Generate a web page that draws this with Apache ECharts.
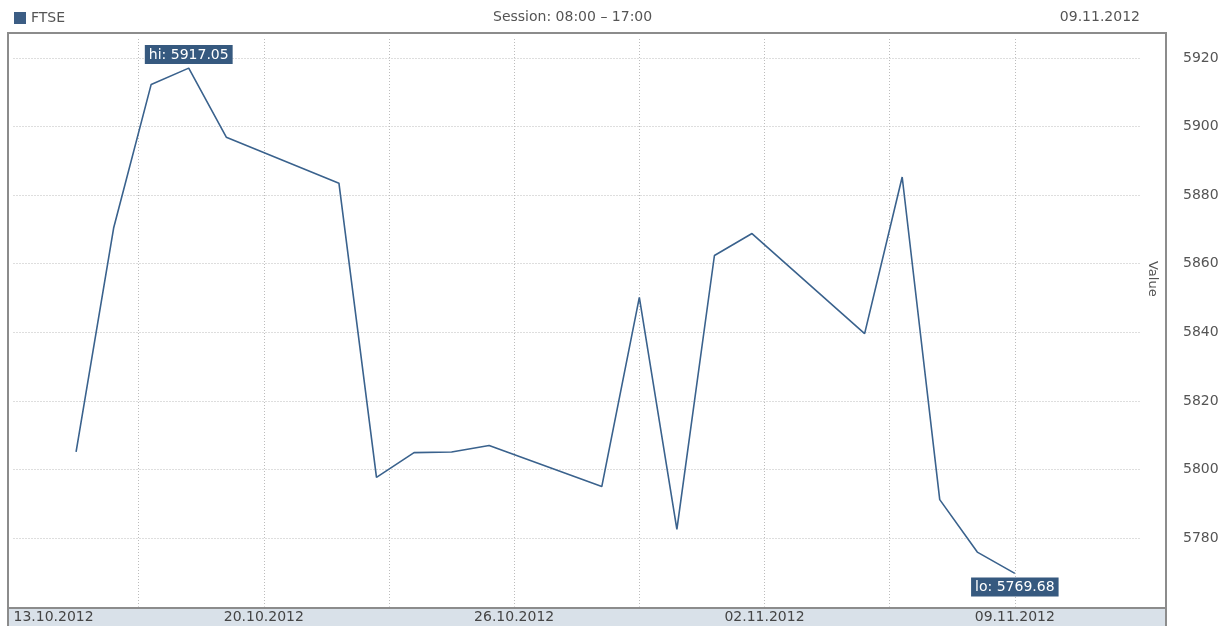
<!DOCTYPE html>
<html>
<head>
<meta charset="utf-8">
<script src="https://cdn.jsdelivr.net/npm/echarts@6/dist/echarts.min.js"></script>
<style>
  html, body { margin: 0; padding: 0; background: #fff; }
  #myChart { width: 1227px; height: 626px; }
</style>
</head>
<body>
<div id="myChart"></div>
<script>
// trading days (close of session)
var dates = [
  "15.10.2012", "16.10.2012", "17.10.2012", "18.10.2012", "19.10.2012",
  "22.10.2012", "23.10.2012", "24.10.2012", "25.10.2012", "26.10.2012",
  "29.10.2012", "30.10.2012", "31.10.2012", "01.11.2012", "02.11.2012",
  "05.11.2012", "06.11.2012", "07.11.2012", "08.11.2012", "09.11.2012"
];
var values = [
  5805.1, 5870.4, 5912.3, 5917.05, 5896.9,
  5883.5, 5797.7, 5804.9, 5805.1, 5807.0,
  5795.0, 5850.2, 5782.5, 5862.4, 5868.8,
  5839.6, 5885.3, 5791.2, 5775.9, 5769.68
];
var tickLabels = ["13.10.2012", "20.10.2012", "26.10.2012", "02.11.2012", "09.11.2012"];

var FONT = "DejaVu Sans";
var lineColor = "#3a628d";
var boxColor = "#36597f";
var gridColor = "#bcbcbc";

// x in thirds of a day, counted from 13.10.2012 08:00 (session open)
function toX(s) {
  var p = s.split(".");
  var ms = Date.UTC(+p[2], +p[1] - 1, +p[0]) - Date.UTC(2012, 9, 13);
  return ms / 86400000 * 3 - 1;
}

var seriesData = dates.map(function (d, i) { return [toX(d), values[i]]; });

document.addEventListener("DOMContentLoaded", function () {
  var myChart = echarts.init(document.getElementById("myChart"));

  var option = {
    animation: false,
    textStyle: { fontFamily: FONT },
    title: [
      {
        text: "Session: 08:00 \u2013 17:00",
        left: 493, top: 10, padding: 0,
        textStyle: { fontFamily: FONT, fontSize: 14, fontWeight: "normal", color: "#555" }
      },
      {
        text: "09.11.2012",
        right: 87, top: 10, padding: 0,
        textStyle: { fontFamily: FONT, fontSize: 14, fontWeight: "normal", color: "#555" }
      }
    ],
    legend: {
      left: 14, top: 11, padding: 0,
      itemWidth: 12, itemHeight: 12, itemGap: 4,
      textStyle: { fontFamily: FONT, fontSize: 14, color: "#555" },
      data: [{ name: "FTSE", icon: "rect", itemStyle: { color: "#3c5d84" } }]
    },
    grid: { left: 13.5, right: 87, top: 39, bottom: 19.4, outerBoundsMode: "none", containLabel: false },
    xAxis: {
      type: "value",
      min: 0, max: 90, interval: 10,
      axisLine: { show: false },
      axisTick: { show: false },
      axisLabel: {
        margin: 4,
        alignMinLabel: "left",
        showMaxLabel: false,
        fontFamily: FONT, fontSize: 14, color: "#444",
        formatter: function (v) {
          return v % 20 === 0 ? (tickLabels[v / 20] || "") : "";
        }
      },
      splitLine: {
        show: true, showMinLine: false, showMaxLine: false,
        lineStyle: { color: gridColor, width: 1, type: [1, 2] }
      }
    },
    yAxis: {
      type: "value",
      position: "right",
      min: 5760, max: 5925.54, interval: 20,
      name: "Value",
      nameLocation: "middle",
      nameRotate: -90,
      nameGap: 6,
      nameMoveOverlap: false,
      nameTextStyle: { fontFamily: FONT, fontSize: 13, color: "#555", padding: [0, 88, 0, 0] },
      axisLine: { show: false },
      axisTick: { show: false },
      axisLabel: {
        margin: 43, showMinLabel: false, showMaxLabel: false,
        fontFamily: FONT, fontSize: 14, color: "#555",
        formatter: function (v) { return String(v); }
      },
      splitLine: {
        show: true, showMinLine: false, showMaxLine: false,
        lineStyle: { color: gridColor, width: 1, type: [1, 2] }
      }
    },
    graphic: {
      elements: [
        { type: "rect", z: -1, shape: { x: 8, y: 608, width: 1158, height: 20 }, style: { fill: "#d9e1e9" } },
        { type: "rect", z: 10, shape: { x: 8, y: 33, width: 1158, height: 600 }, style: { fill: null, stroke: "#8c8c8c", lineWidth: 2 } },
        { type: "line", z: 10, shape: { x1: 8, y1: 608, x2: 1166, y2: 608 }, style: { stroke: "#8c8c8c", lineWidth: 2 } }
      ]
    },
    series: [
      {
        name: "FTSE",
        type: "line",
        data: seriesData,
        symbol: "circle",
        symbolSize: 0,
        showSymbol: false,
        lineStyle: { color: lineColor, width: 1.6 },
        itemStyle: { color: lineColor },
        markPoint: {
          symbol: "circle",
          symbolSize: 0,
          data: [
            {
              type: "max",
              label: {
                show: true, position: "top", distance: 4,
                formatter: function (p) { return "hi: " + p.value; }
              }
            },
            {
              type: "min",
              label: {
                show: true, position: "bottom", distance: 4,
                formatter: function (p) { return "lo: " + p.value; }
              }
            }
          ],
          label: {
            color: "#fff", backgroundColor: boxColor,
            padding: [3, 4, 2, 4],
            fontFamily: FONT, fontSize: 14
          }
        }
      }
    ]
  };

  myChart.setOption(option);
});
</script>
</body>
</html>
